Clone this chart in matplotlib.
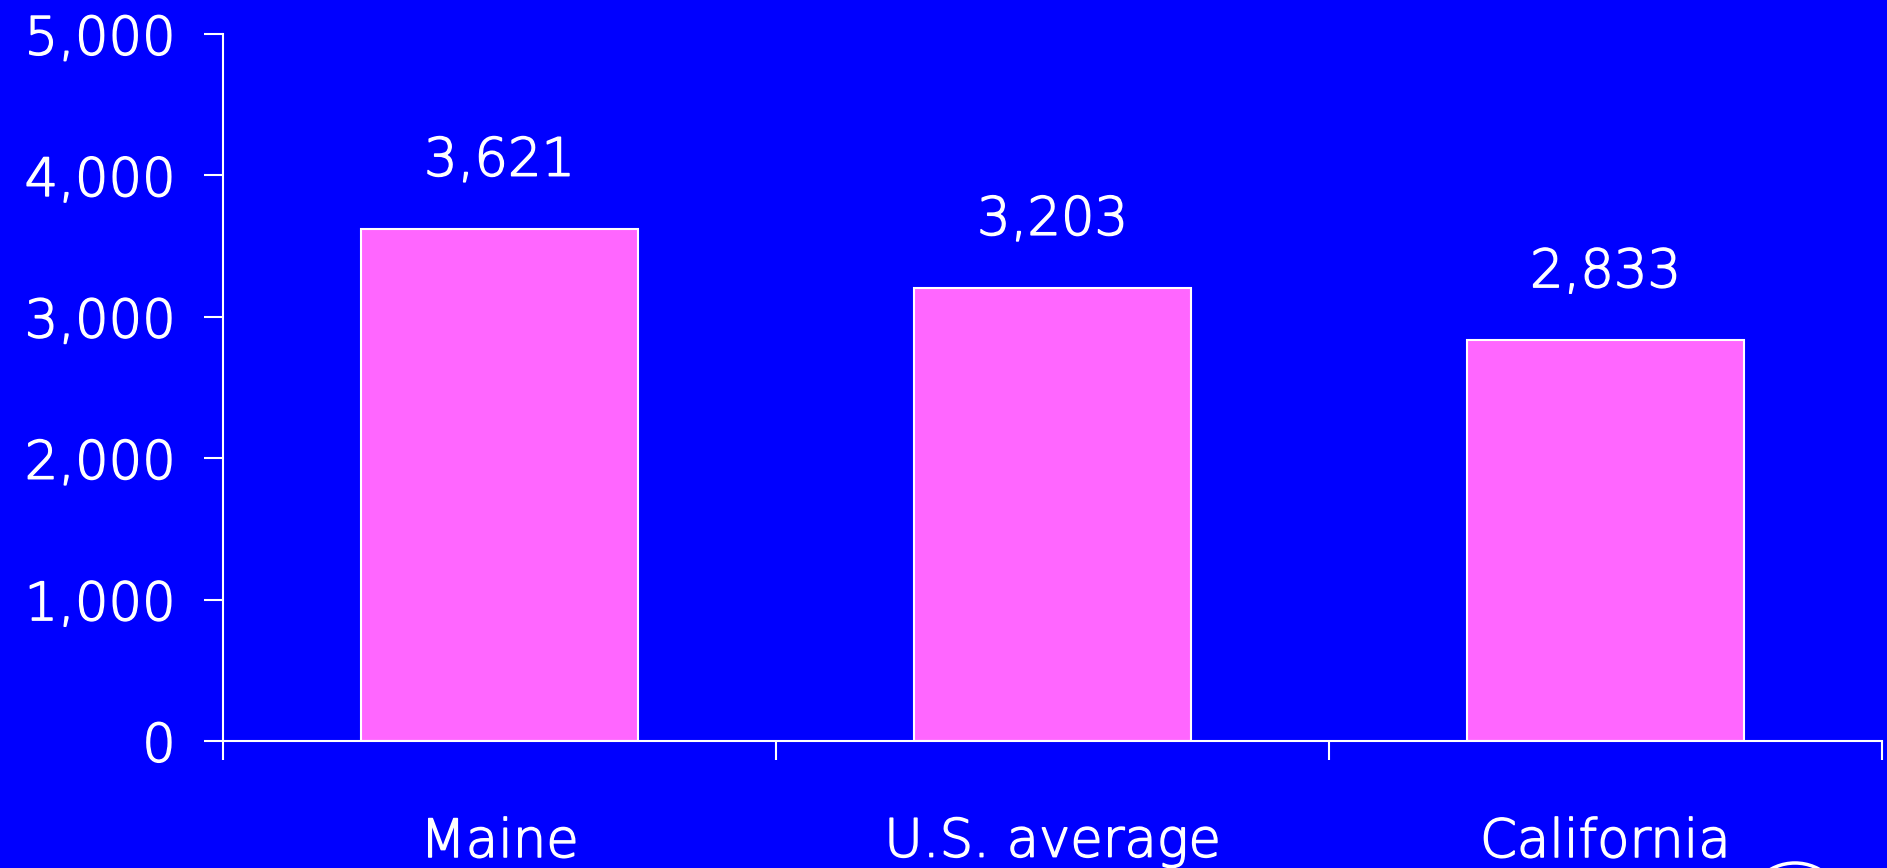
import matplotlib
matplotlib.use("Agg")
import matplotlib.pyplot as plt
import matplotlib.patheffects as pe
from matplotlib.patches import Circle
from matplotlib.ticker import FuncFormatter, FixedLocator

# data
categories = ["Maine", "U.S. average", "California"]
values = [3621, 3203, 2833]
y_ticks = [0, 1000, 2000, 3000, 4000, 5000]

BG = "#0000FF"
BAR = "#FF66FF"
FG = "white"
FS = 38
# thin font, thickened a little with a stroke
THICK = [pe.withStroke(linewidth=1.1, foreground=FG)]

plt.rcParams["font.family"] = ["DejaVu Sans"]
plt.rcParams["font.weight"] = "light"

fig = plt.figure(figsize=(18.87, 8.68), dpi=100, facecolor=BG)
ax = fig.add_axes([0.1182, 0.1463, 0.8791, 0.8145], facecolor=BG)

x = list(range(len(categories)))
bars = ax.bar(x, values, width=0.5, color=BAR, edgecolor=FG, linewidth=1.5, zorder=2)

# value labels above each bar
for rect, v in zip(bars, values):
    ax.annotate(f"{v:,}", (rect.get_x() + rect.get_width() / 2, rect.get_height()),
                xytext=(0, 30), textcoords="offset points",
                ha="center", va="bottom", color=FG, fontsize=FS, path_effects=THICK)

ax.set_xlim(-0.5, len(categories) - 0.5)
ax.set_ylim(0, 5000)
ax.yaxis.set_major_locator(FixedLocator(y_ticks))
ax.yaxis.set_major_formatter(FuncFormatter(lambda v, p: f"{int(v):,}"))

# ticks on category boundaries, labels centred under bars
ax.set_xticks([i - 0.5 for i in range(len(categories) + 1)])
ax.set_xticklabels([])
ax.set_xticks(x, minor=True)
ax.set_xticklabels(categories, minor=True)
ax.tick_params(axis="x", which="minor", length=0, pad=54, labelsize=FS, labelcolor=FG)
ax.tick_params(axis="x", which="major", length=14, width=1.5, color=FG, direction="out")
ax.tick_params(axis="y", length=14, width=1.5, color=FG, direction="out",
               pad=20, labelsize=FS, labelcolor=FG)
for lbl in ax.get_xticklabels(minor=True) + ax.get_yticklabels():
    lbl.set_path_effects(THICK)

for side in ["top", "right"]:
    ax.spines[side].set_visible(False)
for side in ["left", "bottom"]:
    ax.spines[side].set_color(FG)
    ax.spines[side].set_linewidth(1.5)

# clipped ring in the bottom-right corner
fig.patches.append(Circle((1795, -45), 50, transform=None, fill=False,
                          edgecolor=FG, linewidth=2.5, figure=fig))

fig.savefig("out.png", dpi=100, facecolor=BG)
